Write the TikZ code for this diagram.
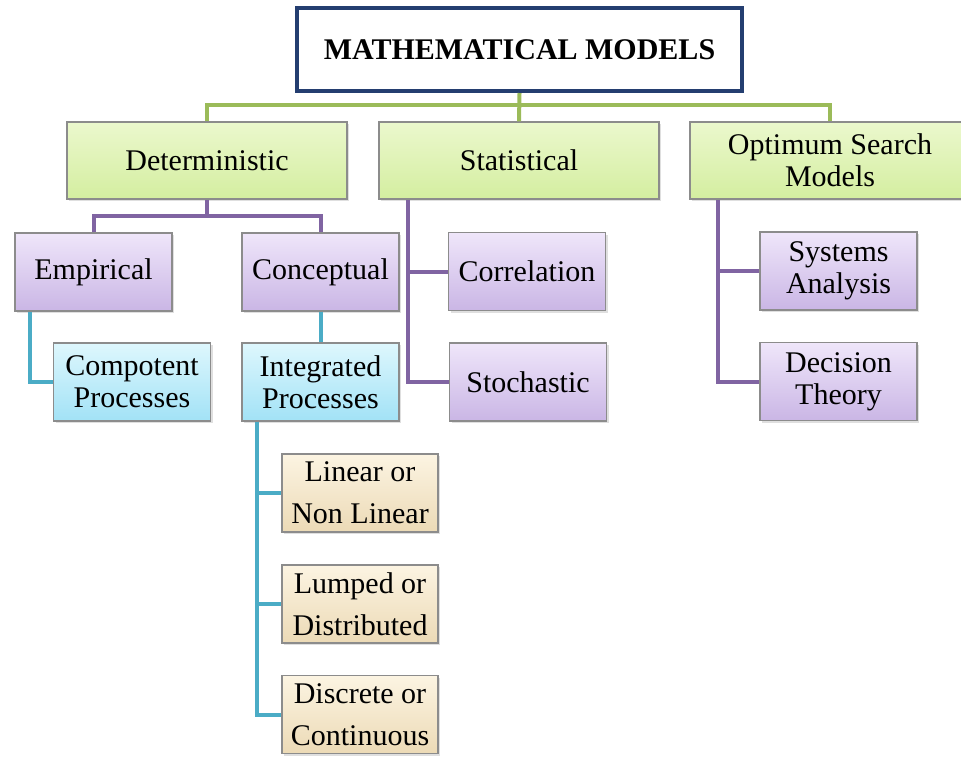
\documentclass[tikz,border=0pt]{standalone}
\usepackage{fontspec}
\setmainfont{Liberation Serif}
\usetikzlibrary{calc,shadows}

\definecolor{navyline}{RGB}{36,62,112}
\definecolor{greenline}{RGB}{155,187,89}
\definecolor{purpleline}{RGB}{128,100,162}
\definecolor{cyanline}{RGB}{75,172,198}
\definecolor{boxedge}{RGB}{140,140,140}

\begin{document}
\begin{tikzpicture}[x=0.5pt,y=-0.5pt,
	box/.style={draw=boxedge, line width=0.6pt, inner sep=0pt, align=center,
		font=\fontsize{15}{16}\selectfont,
		drop shadow={opacity=0.25, shadow xshift=1.2pt, shadow yshift=-1.2pt}},
	mainbox/.style={box, top color={rgb,255:red,235;green,248;blue,205}, bottom color={rgb,255:red,212;green,238;blue,160},
		minimum width=140pt, minimum height=38.5pt},
	subbox/.style={box, top color={rgb,255:red,239;green,230;blue,250}, bottom color={rgb,255:red,202;green,182;blue,229},
		minimum width=78.5pt, minimum height=39pt},
	procbox/.style={box, top color={rgb,255:red,222;green,247;blue,253}, bottom color={rgb,255:red,162;green,226;blue,246},
		minimum width=78.5pt, minimum height=39pt},
	kindbox/.style={box, top color={rgb,255:red,252;green,244;blue,226}, bottom color={rgb,255:red,236;green,218;blue,182},
		minimum width=78pt, minimum height=39pt, font=\fontsize{15}{21}\selectfont},
	gline/.style={greenline, line width=2pt},
	pline/.style={purpleline, line width=2pt},
	cline/.style={cyanline, line width=2pt}]
	\useasboundingbox (0,0) rectangle (961,757);
	
	% Title
	\node[box, fill=white, draw=navyline, line width=2pt, minimum width=222.5pt, minimum height=41.5pt,
		font=\fontsize{15}{16}\selectfont\bfseries] (top) at (519.5,49.5) {MATHEMATICAL MODELS};
	
	% First level
	\node[mainbox] (det) at (207,160.5) {Deterministic};
	\node[mainbox] (stat) at (519,160.5) {Statistical};
	\node[mainbox] (opt) at (830,160.5) {Optimum Search\\Models};
	
	% Second level
	\node[subbox] (emp) at (93.5,272) {Empirical};
	\node[subbox] (con) at (320.5,272) {Conceptual};
	\node[subbox] (cor) at (527,271.5) {Correlation};
	\node[subbox] (sto) at (528,382) {Stochastic};
	\node[subbox] (sys) at (838.5,271) {Systems\\Analysis};
	\node[subbox] (dec) at (838.5,381.5) {Decision\\Theory};
	
	% Processes
	\node[procbox] (comp) at (132,382) {Compotent\\Processes};
	\node[procbox] (integ) at (320.5,382) {Integrated\\Processes};
	
	% Kinds of integrated processes
	\node[kindbox] (lin) at (360,493) {Linear or\\Non Linear};
	\node[kindbox] (lump) at (360,604) {Lumped or\\Distributed};
	\node[kindbox] (disc) at (360,714.5) {Discrete or\\Continuous};
	
	% Green connectors
	\coordinate (gbus) at (519.5,105);
	\draw[gline] (top.south) -- (stat.north);
	\draw[gline] (det.north) |- (gbus) -| (opt.north);
	
	% Purple connectors
	\coordinate (dbus) at (207,216);
	\draw[pline] (det.south) -- (dbus);
	\draw[pline] (emp.north) |- (dbus) -| (con.north);
	\coordinate (sbus) at ($(stat.south west)+(30,0)$);
	\draw[pline] (sbus) |- (sto.west);
	\draw[pline] (sbus |- cor.west) -- (cor.west);
	\coordinate (obus) at ($(opt.south west)+(29,0)$);
	\draw[pline] (obus) |- (dec.west);
	\draw[pline] (obus |- sys.west) -- (sys.west);
	
	% Cyan connectors
	\coordinate (ebus) at ($(emp.south west)+(16,0)$);
	\draw[cline] (ebus) |- (comp.west);
	\draw[cline] (con.south) -- (integ.north);
	\coordinate (ibus) at ($(integ.south west)+(16,0)$);
	\draw[cline] (ibus) |- (disc.west);
	\draw[cline] (ibus |- lin.west) -- (lin.west);
	\draw[cline] (ibus |- lump.west) -- (lump.west);
\end{tikzpicture}
\end{document}
